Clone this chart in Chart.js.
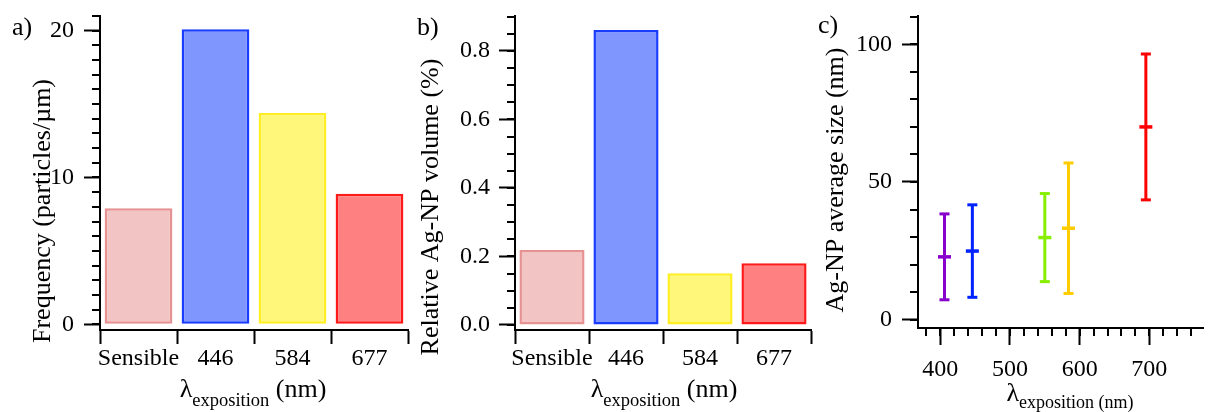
<!DOCTYPE html>
<html>
<head>
<meta charset="utf-8">
<script src="https://cdn.jsdelivr.net/npm/chart.js@4"></script>
<style>
  body { margin: 0; background: #fff; }
  #wrap { position: relative; width: 1213px; height: 412px; overflow: hidden; }
  canvas { position: absolute; top: 0; }
</style>
</head>
<body>
<div id="wrap">
  <canvas id="chartA" width="410" height="412" style="left:0px"></canvas>
  <canvas id="chartB" width="410" height="412" style="left:405px"></canvas>
  <canvas id="chartC" width="403" height="412" style="left:810px"></canvas>
</div>
<script>
// data
const categories = ['Sensible', '446', '584', '677']
const frequency = [7.9, 20.1, 14.4, 8.9]          // particles/um
const relVolume = [0.219, 0.861, 0.151, 0.18]     // %
const freqTicks = [0, 10, 20]
const volTicks = [0, 0.2, 0.4, 0.6, 0.8]

const wavelengths = [406, 446, 550, 584, 695]     // nm
const meanSize = [22.8, 24.9, 29.8, 33.2, 70.0]   // nm
const sizeError = [15.6, 16.8, 16.0, 23.7, 26.5]
const sizeTicks = [0, 50, 100]
const wlTicks = [400, 500, 600, 700]

const barFill = ['#f2c4c4', '#8096ff', '#fff77a', '#ff8080']
const barEdge = ['#e69292', '#1a3cff', '#ffee22', '#ff1a1a']
const pointColors = ['#8800cc', '#0022ff', '#88ee00', '#ffcc00', '#ff0000']

const serif = '"Liberation Serif", Tinos, "Times New Roman", "DejaVu Serif", "Noto Serif", serif'
Chart.defaults.font.family = serif
Chart.defaults.font.size = 24
Chart.defaults.color = '#000'

// short minor ticks, placed through the chart's own scales
const minorTicks = {
    id: 'minorTicks',
    afterDraw(chart, args, opts) {
        const ctx = chart.ctx
        ;(opts.axes || []).forEach(a => {
            const scale = chart.scales[a.id]
            ctx.save()
            ctx.strokeStyle = '#000'
            ctx.lineWidth = 2
            ctx.beginPath()
            for (let v = a.from; v <= a.to + 1e-9; v += a.step) {
                const p = Math.round(scale.getPixelForValue(v))
                if (scale.isHorizontal()) {
                    ctx.moveTo(p, scale.top); ctx.lineTo(p, scale.top + a.len)
                } else {
                    ctx.moveTo(scale.right, p); ctx.lineTo(scale.right - a.len, p)
                }
            }
            ctx.stroke()
            ctx.restore()
        })
    }
}

// panel letter, rotated y title and x title with subscript
const panelText = {
    id: 'panelText',
    afterDraw(chart, args, o) {
        const ctx = chart.ctx
        ctx.save()
        ctx.fillStyle = '#000'
        ctx.textBaseline = 'alphabetic'
        ctx.font = '26px ' + serif
        ctx.textAlign = 'left'
        ctx.fillText(o.letter, o.lx, o.ly)

        ctx.save()
        ctx.translate(o.yx, o.yy)
        ctx.rotate(-Math.PI / 2)
        ctx.textAlign = 'center'
        ctx.fillText(o.yTitle, 0, 0)
        ctx.restore()

        let w = 0
        o.xParts.forEach(p => { ctx.font = p.size + 'px ' + serif; w += ctx.measureText(p.t).width })
        let x = o.xc - w / 2
        o.xParts.forEach(p => {
            ctx.font = p.size + 'px ' + serif
            ctx.fillText(p.t, x, o.xBase + p.dy)
            x += ctx.measureText(p.t).width
        })
        ctx.restore()
    }
}

function fixedTicks(list) {
    return scale => { scale.ticks = list.map(v => ({ value: v })) }
}

function fitY(width) {
    return s => { s.width = width; s.paddingTop = 0; s.paddingBottom = 0 }
}
function fitX(height) {
    return s => { s.height = height; s.paddingLeft = 0; s.paddingRight = 0 }
}

function barChart(id, values, yMin, yMax, yTicks, yWidth, padRight, yLabelPad, minor, text, fmt) {
    return new Chart(document.getElementById(id), {
        type: 'bar',
        data: {
            labels: categories,
            datasets: [{
                data: values,
                backgroundColor: barFill,
                borderColor: barEdge,
                borderWidth: 2.5,
                borderSkipped: false,
                barPercentage: 0.88,
                categoryPercentage: 1
            }]
        },
        options: {
            responsive: false,
            animation: false,
            layout: { padding: { top: 16, right: padRight, left: 0, bottom: 0 } },
            plugins: {
                legend: { display: false },
                tooltip: { enabled: false },
                minorTicks: { axes: [minor] },
                panelText: text
            },
            scales: {
                x: {
                    grid: { drawOnChartArea: false, offset: true, tickLength: 14, tickWidth: 2, tickColor: '#000' },
                    border: { color: '#000', width: 2 },
                    ticks: { padding: 0, maxRotation: 0, autoSkip: false },
                    afterFit: fitX(82)
                },
                y: {
                    min: yMin, max: yMax,
                    afterBuildTicks: fixedTicks(yTicks),
                    grid: { drawOnChartArea: false, tickLength: 16, tickWidth: 2, tickColor: '#000' },
                    border: { color: '#000', width: 2 },
                    ticks: { padding: yLabelPad, callback: fmt },
                    afterFit: fitY(yWidth)
                }
            }
        },
        plugins: [minorTicks, panelText]
    })
}

const subTitle = [
    { t: 'λ', size: 26, dy: 0 },
    { t: 'exposition', size: 18.5, dy: 9 },
    { t: ' (nm)', size: 26, dy: 0 }
]

barChart('chartA', frequency, -0.39, 21.0, freqTicks, 100, 2, 10,
    { id: 'y', from: 0, to: 21, step: 1, len: 8 },
    { letter: 'a)', lx: 12, ly: 35, yTitle: 'Frequency (particles/µm)', yx: 50, yy: 211,
      xParts: subTitle, xc: 253, xBase: 397 },
    v => String(v))

barChart('chartB', relVolume, -0.0146, 0.902, volTicks, 110, 4, 9,
    { id: 'y', from: 0, to: 0.9, step: 0.05, len: 8 },
    { letter: 'b)', lx: 12, ly: 35, yTitle: 'Relative Ag-NP volume (%)', yx: 33, yy: 207,
      xParts: subTitle, xc: 259, xBase: 397 },
    v => v.toFixed(1))

// panel c: mean size with symmetric error bars
const errorSets = wavelengths.map((w, i) => ({
    data: [{ x: w, y: meanSize[i] - sizeError[i] }, { x: w, y: meanSize[i] + sizeError[i] }],
    showLine: true,
    borderColor: pointColors[i],
    borderWidth: 3,
    pointStyle: 'line',
    pointRadius: 5,
    pointBorderWidth: 3,
    pointBorderColor: pointColors[i]
}))
const meanSet = {
    data: wavelengths.map((w, i) => ({ x: w, y: meanSize[i] })),
    pointStyle: 'line',
    pointRadius: 6.5,
    pointBorderWidth: 3.5,
    pointBorderColor: pointColors,
    backgroundColor: pointColors
}

new Chart(document.getElementById('chartC'), {
    type: 'scatter',
    data: { datasets: [...errorSets, meanSet] },
    options: {
        responsive: false,
        animation: false,
        layout: { padding: { top: 16, right: 0, left: 0, bottom: 0 } },
        plugins: {
            legend: { display: false },
            tooltip: { enabled: false },
            minorTicks: { axes: [
                { id: 'y', from: 0, to: 110, step: 10, len: 8 },
                { id: 'x', from: 380, to: 776, step: 20, len: 8 }
            ] },
            panelText: {
                letter: 'c)', lx: 8, ly: 33, yTitle: 'Ag-NP average size (nm)', yx: 33, yy: 180,
                xParts: [
                    { t: 'λ', size: 26, dy: 0 },
                    { t: 'exposition (nm)', size: 18, dy: 7 }
                ],
                xc: 260, xBase: 401
            }
        },
        scales: {
            x: {
                type: 'linear', min: 368, max: 777,
                afterBuildTicks: fixedTicks(wlTicks),
                grid: { drawOnChartArea: false, tickLength: 17, tickWidth: 2, tickColor: '#000' },
                border: { color: '#000', width: 2 },
                ticks: { padding: 10, maxRotation: 0 },
                afterFit: fitX(84)
            },
            y: {
                min: -3.05, max: 110.3,
                afterBuildTicks: fixedTicks(sizeTicks),
                grid: { drawOnChartArea: false, tickLength: 16, tickWidth: 2, tickColor: '#000' },
                border: { color: '#000', width: 2 },
                ticks: { padding: 10 },
                afterFit: fitY(108)
            }
        }
    },
    plugins: [minorTicks, panelText]
})
</script>
</body>
</html>
